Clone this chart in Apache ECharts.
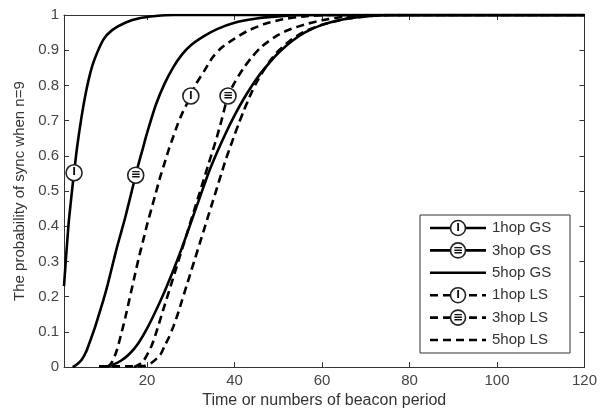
<!DOCTYPE html>
<html>
<head>
<meta charset="utf-8">
<script src="https://cdn.jsdelivr.net/npm/echarts@6/dist/echarts.min.js"></script>
<style>
  html, body { margin: 0; padding: 0; background: #fff; }
  #chart { width: 600px; height: 414px; }
</style>
</head>
<body>
<div id="chart"></div>
<script>
// Synchronisation probability curves (n = 9), global vs. local sync over 1/3/5 hops
const xTicks = [20, 40, 60, 80, 100, 120];

const gs1X = [1, 2, 3, 3.3, 4, 5, 6, 7, 8, 10, 12, 15, 18, 22, 26, 120];
const gs1Y = [0.23, 0.40, 0.52, 0.552, 0.625, 0.71, 0.78, 0.835, 0.875, 0.93, 0.957, 0.978, 0.99, 0.997, 1, 1];
const gs1Mark = 3;

const gs3X = [3, 4, 5, 6, 7, 8, 9, 10, 11, 12, 13, 14, 15, 16, 17.4, 18, 19, 20, 22, 24, 26, 28, 30, 33, 36, 40, 45, 50, 56, 120];
const gs3Y = [0, 0.008, 0.02, 0.042, 0.075, 0.11, 0.15, 0.19, 0.235, 0.285, 0.335, 0.38, 0.425, 0.475, 0.545, 0.575, 0.62, 0.665, 0.745, 0.805, 0.852, 0.888, 0.914, 0.94, 0.96, 0.978, 0.99, 0.996, 1, 1];
const gs3Mark = 14;

const gs5X = [10, 12, 14, 16, 18, 20, 22, 24, 26, 28, 30, 32, 34, 36, 38, 40, 42, 44, 46, 48, 50, 53, 56, 60, 65, 70, 76, 120];
const gs5Y = [0, 0.006, 0.018, 0.038, 0.068, 0.11, 0.16, 0.215, 0.275, 0.34, 0.41, 0.48, 0.55, 0.61, 0.665, 0.715, 0.76, 0.8, 0.835, 0.865, 0.892, 0.925, 0.95, 0.972, 0.988, 0.996, 1, 1];

const ls1X = [11, 12, 13, 14, 15, 16, 17, 18, 19, 20, 21, 22, 23, 24, 25, 26, 27, 28, 30, 31, 33, 35, 37, 40, 43, 47, 51, 56, 62, 120];
const ls1Y = [0, 0.015, 0.045, 0.09, 0.14, 0.195, 0.25, 0.305, 0.355, 0.405, 0.45, 0.495, 0.54, 0.58, 0.62, 0.655, 0.69, 0.72, 0.77, 0.8, 0.84, 0.88, 0.907, 0.933, 0.955, 0.975, 0.988, 0.996, 1, 1];
const ls1Mark = 18;

const ls3X = [17, 19, 21, 22, 23, 24, 25, 26, 27, 28, 29, 30, 31, 32, 33, 34, 35, 36, 37, 38.5, 40, 42, 44, 46, 49, 52, 56, 60, 65, 70, 120];
const ls3Y = [0, 0.015, 0.06, 0.095, 0.135, 0.175, 0.215, 0.255, 0.295, 0.335, 0.375, 0.415, 0.455, 0.495, 0.535, 0.575, 0.615, 0.655, 0.7, 0.77, 0.808, 0.848, 0.881, 0.908, 0.936, 0.956, 0.973, 0.985, 0.995, 1, 1];
const ls3Mark = 19;

const ls5X = [9, 19, 21, 23, 24, 25, 26, 27, 28, 29, 30, 31, 32, 33, 34, 35, 36, 37, 38, 39, 40, 41, 42, 43, 44, 45, 46, 48, 50, 53, 56, 60, 65, 70, 75, 120];
const ls5Y = [0.002, 0.003, 0.012, 0.035, 0.06, 0.085, 0.115, 0.15, 0.19, 0.23, 0.27, 0.31, 0.35, 0.39, 0.43, 0.47, 0.51, 0.55, 0.59, 0.625, 0.66, 0.693, 0.725, 0.755, 0.783, 0.808, 0.83, 0.868, 0.898, 0.93, 0.953, 0.972, 0.988, 0.996, 1, 1];

const seriesNames = ['1hop GS', '3hop GS', '5hop GS', '1hop LS', '3hop LS', '5hop LS'];

const DASH = [8, 5];
const markerGlyph = { one: 'I', three: '≡' };

function pairs(xs, ys, markIdx, glyph) {
  return xs.map((x, i) => {
    if (i !== markIdx) return [x, ys[i]];
    return {
      value: [x, ys[i]],
      symbol: 'circle',
      symbolSize: 16,
      itemStyle: { color: '#fff', borderColor: '#222', borderWidth: 1.6 },
      label: {
        show: true, position: 'inside', formatter: glyph,
        color: '#111', fontSize: glyph === 'I' ? 10 : 12, fontWeight: 'bold',
        fontFamily: 'DejaVu Sans'
      }
    };
  });
}

function lineSeries(name, data, dashed) {
  return {
    name, type: 'line', data,
    xAxisIndex: 0, yAxisIndex: 0,
    symbol: 'none', showSymbol: true, showAllSymbol: true,
    smooth: 0.25,
    lineStyle: { color: '#000', width: 2.6, type: dashed ? DASH : 'solid' },
    z: 3,
    emphasis: { disabled: true },
    animation: false
  };
}

// Legend drawn as a boxed key in the lower right
const legendRows = [
  { name: seriesNames[0], dashed: false, glyph: markerGlyph.one },
  { name: seriesNames[1], dashed: false, glyph: markerGlyph.three },
  { name: seriesNames[2], dashed: false, glyph: null },
  { name: seriesNames[3], dashed: true, glyph: markerGlyph.one },
  { name: seriesNames[4], dashed: true, glyph: markerGlyph.three },
  { name: seriesNames[5], dashed: true, glyph: null }
];
const LG = { left: 420, top: 215, width: 150, height: 138, row0: 228, rowGap: 22.4, x1: 430, x2: 486, mx: 458, tx: 492 };

function legendGraphic() {
  const els = [{
    type: 'rect', shape: { x: LG.left, y: LG.top, width: LG.width, height: LG.height },
    style: { fill: '#fff', stroke: '#333', lineWidth: 1 }, z: 10
  }];
  legendRows.forEach((r, i) => {
    const y = LG.row0 + i * LG.rowGap;
    els.push({
      type: 'line', shape: { x1: LG.x1, y1: y, x2: LG.x2, y2: y },
      style: { stroke: '#000', lineWidth: 2.6, lineDash: r.dashed ? DASH : null }, z: 11
    });
    if (r.glyph) {
      els.push({
        type: 'circle', shape: { cx: LG.mx, cy: y, r: 7.5 },
        style: { fill: '#fff', stroke: '#222', lineWidth: 1.6 }, z: 12
      });
      els.push({
        type: 'text', x: LG.mx, y: y,
        style: { text: r.glyph, fill: '#111', font: 'bold ' + (r.glyph === 'I' ? 10 : 12) + 'px DejaVu Sans', align: 'center', verticalAlign: 'middle' },
        z: 13
      });
    }
    els.push({
      type: 'text', x: LG.tx, y: y,
      style: { text: r.name, fill: '#333', font: '15px Liberation Sans', align: 'left', verticalAlign: 'middle' },
      z: 12
    });
  });
  return els;
}

const chart = echarts.init(document.getElementById('chart'), null, { renderer: 'canvas' });

const axisCommon = {
  axisLine: { show: true, onZero: false, lineStyle: { color: '#333', width: 1 } },
  splitLine: { show: false }
};

chart.setOption({
  backgroundColor: '#fff',
  animation: false,
  textStyle: { fontFamily: 'Liberation Sans' },
  grid: { left: 64, right: 14, top: 15, bottom: 46, containLabel: false },
  xAxis: [
    Object.assign({}, axisCommon, {
      type: 'value', min: 1, max: 120, position: 'bottom',
      axisTick: { show: true, inside: true, length: 5, customValues: xTicks, lineStyle: { color: '#333' } },
      axisLabel: { show: true, customValues: xTicks, margin: 6, color: '#444', fontSize: 15 },
      name: 'Time or numbers of beacon period', nameLocation: 'middle', nameGap: 17,
      nameTextStyle: { color: '#333', fontSize: 16 }
    }),
    Object.assign({}, axisCommon, {
      type: 'value', min: 1, max: 120, position: 'top',
      axisTick: { show: true, inside: true, length: 5, customValues: xTicks, lineStyle: { color: '#333' } },
      axisLabel: { show: false }
    })
  ],
  yAxis: [
    Object.assign({}, axisCommon, {
      type: 'value', min: 0, max: 1, interval: 0.1, position: 'left',
      axisTick: { show: true, inside: true, length: 5, lineStyle: { color: '#333' } },
      axisLabel: { show: true, margin: 5, color: '#444', fontSize: 15 },
      name: 'The probability of sync when n=9', nameLocation: 'middle', nameGap: 35,
      nameTextStyle: { color: '#333', fontSize: 15 }
    }),
    Object.assign({}, axisCommon, {
      type: 'value', min: 0, max: 1, interval: 0.1, position: 'right',
      axisTick: { show: true, inside: true, length: 5, lineStyle: { color: '#333' } },
      axisLabel: { show: false }
    })
  ],
  series: [
    lineSeries(seriesNames[0], pairs(gs1X, gs1Y, gs1Mark, markerGlyph.one), false),
    lineSeries(seriesNames[1], pairs(gs3X, gs3Y, gs3Mark, markerGlyph.three), false),
    lineSeries(seriesNames[2], pairs(gs5X, gs5Y, -1, null), false),
    lineSeries(seriesNames[3], pairs(ls1X, ls1Y, ls1Mark, markerGlyph.one), true),
    lineSeries(seriesNames[4], pairs(ls3X, ls3Y, ls3Mark, markerGlyph.three), true),
    lineSeries(seriesNames[5], pairs(ls5X, ls5Y, -1, null), true)
  ],
  graphic: legendGraphic()
});
</script>
</body>
</html>
